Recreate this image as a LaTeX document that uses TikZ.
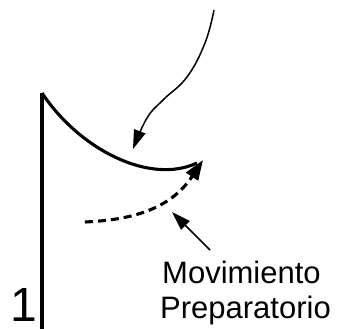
\documentclass[tikz,border=0pt]{standalone}
\usepackage{fontspec}
\setmainfont{Liberation Sans}
\usetikzlibrary{arrows.meta}
\begin{document}
\begin{tikzpicture}[x=1pt,y=-1pt,
  thick line/.style={line width=3.1pt},
  thin line/.style={line width=1.5pt},
  bigtip/.style={-{Triangle[length=20pt,width=14pt]}},
  thintip/.style={-{Triangle[length=19pt,width=12pt]}},
  label text/.style={anchor=base west,inner sep=0pt,font=\fontsize{31}{35}\selectfont}]
\useasboundingbox (0,0) rectangle (343,329);
% named points
\coordinate (vtop) at (42,93);
\coordinate (vbot) at (42,331);
\coordinate (tipA) at (203,160);
\coordinate (dstart) at (85,222);
\coordinate (topstart) at (214,10);
\coordinate (toptip) at (133,149);
\coordinate (lblarrow) at (210,250);
\coordinate (lbltip) at (172,212);
% vertical bar
\draw[thick line] (vbot) -- (vtop);
% solid curve
\draw[thick line] (vtop) .. controls (80,150) and (150,185) .. (197,163);
% dashed preparatory movement
\draw[thick line,dash pattern=on 8pt off 5pt,bigtip] (dstart) .. controls (130,220) and (170,210) .. (tipA);
% top thin arrow
\draw[thin line,thintip] plot[smooth,tension=0.7] coordinates {(topstart) (205,43) (187,77) (163,100) (147,118) (toptip)};
% label arrow
\draw[thin line,thintip] (lblarrow) -- (lbltip);
% labels
\node[anchor=base west,inner sep=0pt,font=\fontsize{48}{50}\selectfont] (one) at (10,321) {1};
\node[label text] (mov) at (162,283) {Movimiento};
\node[label text] (prep) at (160,318) {Preparatorio};
\end{tikzpicture}
\end{document}
